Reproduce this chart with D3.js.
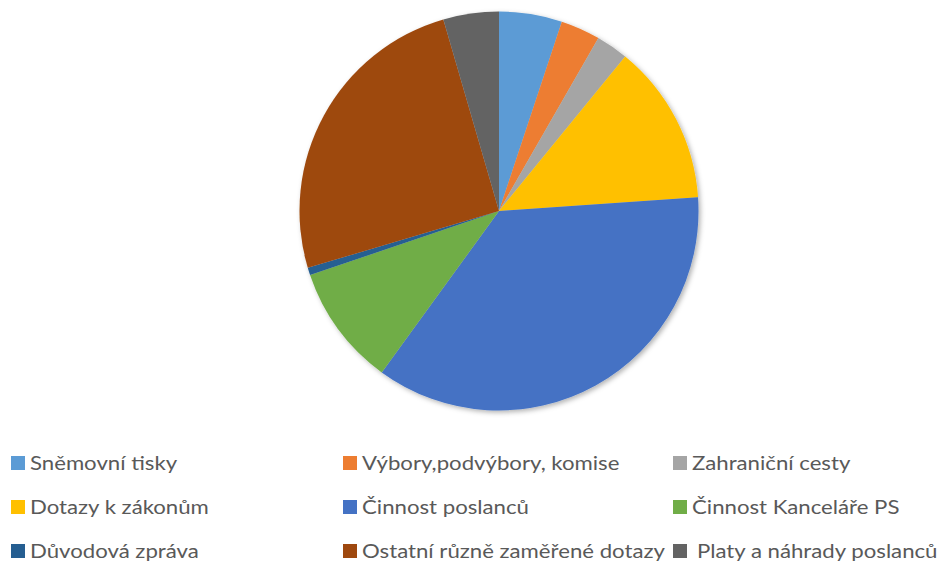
<!DOCTYPE html>
<html><head><meta charset="utf-8">
<script src="https://cdn.jsdelivr.net/npm/d3@7"></script>
<style>body{margin:0;background:#fff}svg{display:block}</style>
</head><body>
<script>
const categories = ["Sněmovní tisky","Výbory,podvýbory, komise","Zahraniční cesty","Dotazy k zákonům","Činnost poslanců","Činnost Kanceláře PS","Důvodová zpráva","Ostatní různě zaměřené dotazy","Platy a náhrady poslanců"];
const values = [5.1, 3.2, 2.6, 13.0, 36.1, 9.8, 0.6, 25.1, 4.5];
const colors = ["#5B9BD5","#ED7D31","#A5A5A5","#FFC000","#4472C4","#70AD47","#255E91","#9E480E","#636363"];

const W = 943, H = 562;
const svg = d3.select("body").append("svg").attr("width", W).attr("height", H);
const defs = svg.append("defs");
const f = defs.append("filter").attr("id","sh").attr("x","-10%").attr("y","-10%").attr("width","125%").attr("height","125%");
f.append("feDropShadow").attr("dx",2).attr("dy",2).attr("stdDeviation",2.5).attr("flood-color","#000").attr("flood-opacity",0.3);

const cx = 499, cy = 211, r = 199.5;
const pie = d3.pie().value(d => d).sort(null);
const arc = d3.arc().innerRadius(0).outerRadius(r);
const g = svg.append("g").attr("transform", `translate(${cx},${cy})`).attr("filter","url(#sh)");
g.selectAll("path").data(pie(values)).join("path")
  .attr("d", arc).attr("fill", (d,i) => colors[i]);

const colX = [11, 343, 673];
const rowY = [463, 507, 551];
const leg = svg.append("g");
categories.forEach((c,i) => {
  const x = colX[i % 3], y = rowY[Math.floor(i/3)];
  leg.append("rect").attr("x", x).attr("y", y-7).attr("width", 14).attr("height", 14).attr("fill", colors[i]);
  const tx = x + 19 + (i===8 ? 5 : 0);
  leg.append("text").attr("transform", `translate(${tx},${y}) scale(1.11,1)`).attr("dy","0.36em")
    .attr("font-family","Lato, 'Open Sans', sans-serif").attr("font-size", 20).attr("fill","#595959")
    .text(c);
});
</script>
</body></html>
